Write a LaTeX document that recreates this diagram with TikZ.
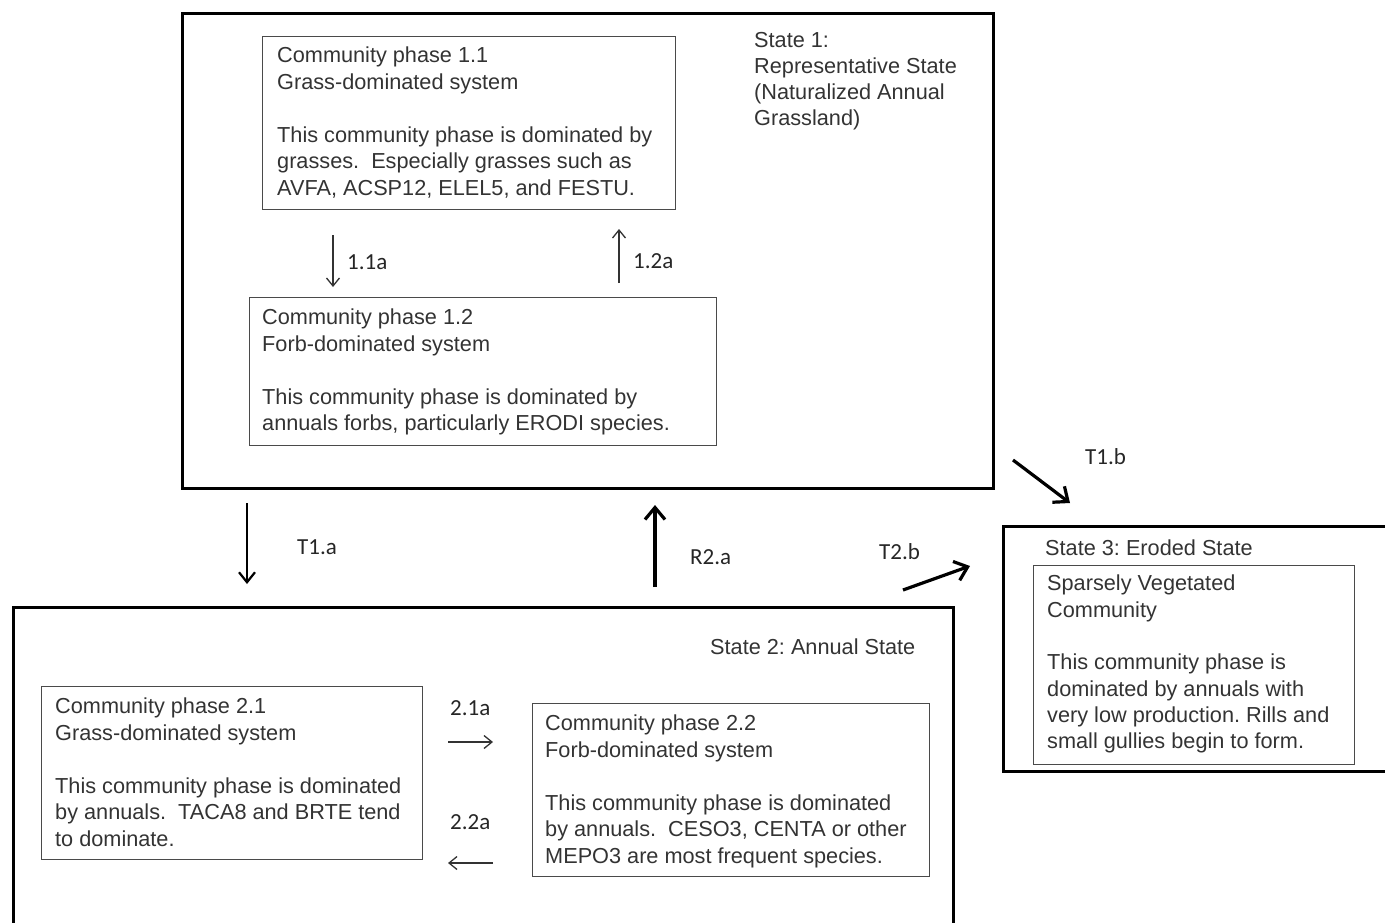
\documentclass[tikz,border=0pt]{standalone}
\usepackage{fontspec}
\setmainfont{Liberation Sans}
\newfontfamily\lblfont{Carlito}
\usetikzlibrary{arrows.meta}
\frenchspacing
\definecolor{txt}{HTML}{333333}
\definecolor{thinline}{HTML}{4A4A4A}
\tikzset{
  statebox/.style={draw=black, line width=3.4pt, rectangle, inner sep=0pt, anchor=north west},
  phasebox/.style={draw=thinline, line width=1.4pt, rectangle, inner sep=0pt, anchor=north west},
  body/.style={anchor=north west, inner sep=0pt, align=left, text=txt, font=\fontsize{21.7}{26.5}\selectfont},
  lbl/.style={anchor=west, inner sep=0pt, text=black!85, font=\lblfont\fontsize{23}{26}\selectfont},
  thinarrow/.style={draw=black!80, line width=1.3pt, -{Straight Barb[length=8pt,width=13pt,line width=1.3pt]}},
  medarrow/.style={draw=black, line width=2.2pt, -{Straight Barb[length=10pt,width=16pt,line width=2.2pt]}},
  thickarrow/.style={draw=black, line width=3.2pt, -{Straight Barb[length=12pt,width=20pt,line width=3.2pt]}}
}
\begin{document}
\begin{tikzpicture}[x=1pt,y=-1pt]
\path[use as bounding box] (0,0) rectangle (1385,922);
\clip (0,0) rectangle (1385,922);
% state boxes
\node[statebox, minimum width=811, minimum height=475] (s1) at (181,12) {};
\node[statebox, minimum width=940, minimum height=340] (s2) at (12,606) {};
\node[statebox, minimum width=400, minimum height=245] (s3) at (1002,525) {};
% phase boxes
\node[phasebox, minimum width=413, minimum height=173] (p11) at (262,36) {};
\node[phasebox, minimum width=467, minimum height=148] (p12) at (249,297) {};
\node[phasebox, minimum width=381, minimum height=173] (p21) at (41,686) {};
\node[phasebox, minimum width=397, minimum height=173] (p22) at (532,703) {};
\node[phasebox, minimum width=321, minimum height=199] (p3) at (1033,565) {};
% texts
\node[body] (t11) at (277,47) {Community phase 1.1\\Grass-dominated system\\[26.5pt]This community phase is dominated by\\grasses.\ \ Especially grasses such as\\AVFA, ACSP12, ELEL5, and FESTU.};
\node[body] (t12) at (262,309) {Community phase 1.2\\Forb-dominated system\\[26.5pt]This community phase is dominated by\\annuals forbs, particularly ERODI species.};
\node[body, font=\fontsize{21.7}{26}\selectfont] (ts1) at (754,32) {State 1:\\Representative State\\(Naturalized Annual\\Grassland)};
\node[body] (ts2) at (710,639) {State 2: Annual State};
\node[body] (t21) at (55,698) {Community phase 2.1\\Grass-dominated system\\[26.5pt]This community phase is dominated\\by annuals.\ \ TACA8 and BRTE tend\\to dominate.};
\node[body] (t22) at (545,715) {Community phase 2.2\\Forb-dominated system\\[26.5pt]This community phase is dominated\\by annuals.\ \ CESO3, CENTA or other\\MEPO3 are most frequent species.};
\node[body] (ts3) at (1045,540) {State 3: Eroded State};
\node[body, font=\fontsize{21.7}{26.3}\selectfont] (t3) at (1047,575) {Sparsely Vegetated\\Community\\[26.3pt]This community phase is\\dominated by annuals with\\very low production. Rills and\\small gullies begin to form.};
% arrow end points
\coordinate (a11s) at (333,235); \coordinate (a11e) at (333,287);
\coordinate (a12s) at (619,283); \coordinate (a12e) at (619,229);
\coordinate (t1as) at (247,503); \coordinate (t1ae) at (247,584);
\coordinate (r2as) at (655,587); \coordinate (r2ae) at (655,505);
\coordinate (t2bs) at (903,590); \coordinate (t2be) at (970,566);
\coordinate (t1bs) at (1013,460); \coordinate (t1be) at (1070,503);
\coordinate (a21s) at (448,742); \coordinate (a21e) at (493,742);
\coordinate (a22s) at (493,863); \coordinate (a22e) at (448,863);
% arrows
\draw[thinarrow] (a11s) -- (a11e);
\draw[thinarrow] (a12s) -- (a12e);
\draw[thinarrow] (a21s) -- (a21e);
\draw[thinarrow] (a22s) -- (a22e);
\draw[medarrow] (t1as) -- (t1ae);
\draw[thickarrow] (r2as) -- (r2ae);
\draw[thickarrow] (t2bs) -- (t2be);
\draw[thickarrow] (t1bs) -- (t1be);
% labels
\node[lbl] (l11) at (347,262) {1.1a};
\node[lbl] (l12) at (633,261) {1.2a};
\node[lbl] (lt1a) at (297,547) {T1.a};
\node[lbl] (lr2a) at (690,557) {R2.a};
\node[lbl] (lt2b) at (879,552) {T2.b};
\node[lbl] (lt1b) at (1085,457) {T1.b};
\node[lbl] (l21) at (450,708) {2.1a};
\node[lbl] (l22) at (450,822) {2.2a};
\end{tikzpicture}
\end{document}
